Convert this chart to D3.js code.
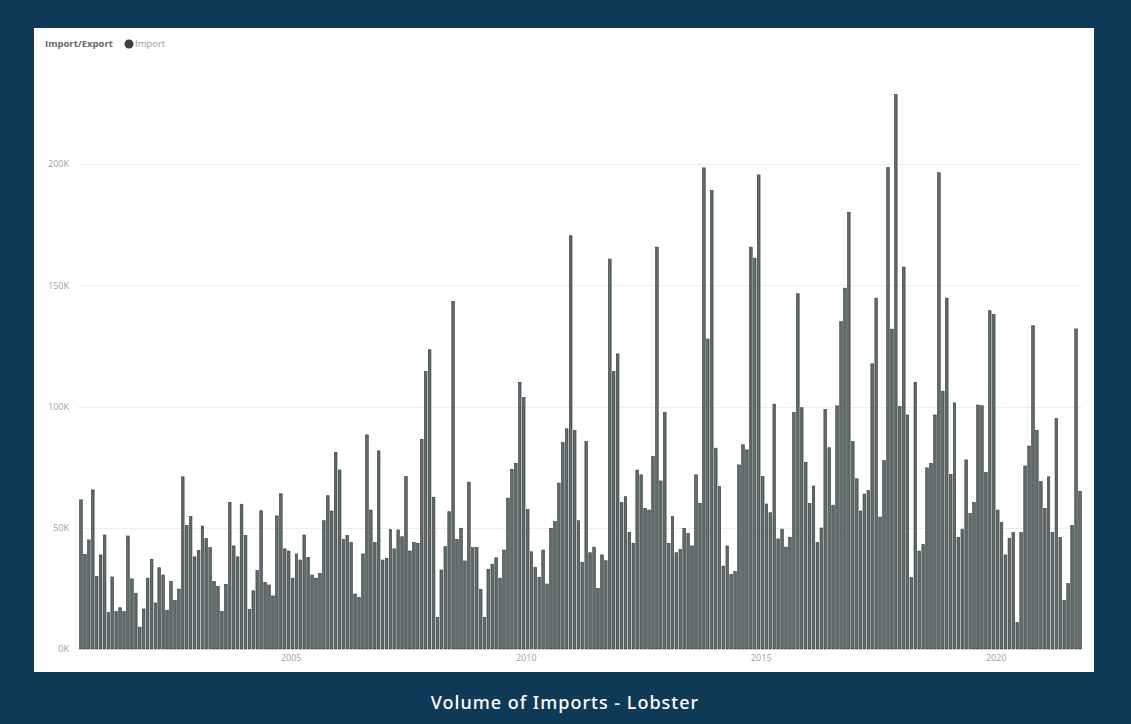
<!DOCTYPE html>
<html><head><meta charset="utf-8">
<script src="https://cdn.jsdelivr.net/npm/d3@7"></script>
<style>
html,body{margin:0;padding:0;background:#0e3a57;}
svg{display:block;}
</style></head><body>
<svg id="chart" width="1131" height="724"></svg>
<script>
// ---- data ----
const startMonth = "2000-07";
const importsK = [
61.5,39,45,65.6,30,38.8,47,15,29.7,15.4,17,15.4,46.6,28.9,23,9,16.5,29.2,37,19,33.5,30.5,16,27.8,20,24.7,
71,51,54.6,38,40.6,50.7,45.5,41.8,27.8,25.7,15.4,26.7,60.4,42.5,38,59.7,46.8,16.4,24,32.3,57,27.5,26.4,21.9,
54.9,64,41.3,40.4,29.2,39.2,36.7,47,37.8,30.5,29.2,31.2,52.9,63.2,56.9,81.1,73.8,45.2,46.8,44,22.7,21.3,39.2,
88.3,57.3,43.9,81.7,36.7,37.4,49.2,41.3,49.1,46.3,71.1,40.4,43.9,43.6,86.5,114.4,123.4,62.6,13.1,32.6,42.2,
56.6,143.3,45.2,49.8,36.3,68.8,41.8,41.8,24.6,13.1,32.9,35,37.6,29.2,40.8,62.2,74.1,76.6,110,103.7,57.6,40.1,
33.7,29.6,40.8,26.8,49.8,52.5,68.4,85.1,90.8,170.4,90.1,52.9,35.8,85.5,39.7,42,25,38.8,36.4,160.8,114.4,121.7,
60.4,62.8,48,43.6,73.8,71.8,58,57.3,79.3,165.7,69.3,97.5,43.6,54.6,39.7,41.1,49.8,47.7,42.5,71.8,60.1,198.4,
127.8,189,82.8,67,34.2,42.5,30.8,31.9,75.9,84.2,82.1,165.7,161.2,195.5,71.1,59.8,56.2,101,45.4,49.4,42,46.1,
97.5,146.5,99.5,77,60,67.2,43.9,49.9,98.8,83,59.3,100.3,135,148.8,180.1,85.5,70.2,56.9,63.9,65.4,117.6,144.7,
54.4,77.7,198.5,131.9,228.6,100,157.5,96.5,29.5,110,40.4,43.1,74.7,76.5,96.5,196.4,106.3,144.7,72,101.5,46.1,
49.4,78,55.9,60.4,100.6,100.3,72.8,139.5,137.9,57.3,52.1,38.8,45.7,48,11,48,75.5,83.7,133.3,90.1,69,58,71,48,
95,46,20,27,51,132,65
];
const yTicks = [0, 50, 100, 150, 200];
const xTickLabels = ["2005", "2010", "2015", "2020"];
const legendTitle = "Import/Export";
const seriesName = "Import";
const chartTitle = "Volume of Imports - Lobster";

// ---- build ----
const parse = d3.timeParse("%Y-%m");
const start = parse(startMonth);
const rows = importsK.map((v, i) => ({ month: d3.timeMonth.offset(start, i), value: v }));
const end = d3.timeMonth.offset(start, importsK.length);

const svg = d3.select("#chart");
svg.append("rect").attr("width", 1131).attr("height", 724).attr("fill", "#0e3a57");
svg.append("rect").attr("x", 34).attr("y", 28).attr("width", 1060).attr("height", 644).attr("fill", "#ffffff");

const x = d3.scaleTime().domain([start, end]).range([79, 1082]);
const y = d3.scaleLinear().domain([0, 200]).range([649, 164]);

// gridlines
svg.append("g").selectAll("line").data(yTicks.filter(t => t > 0)).join("line")
  .attr("x1", 78).attr("x2", 1082)
  .attr("y1", d => Math.round(y(d)) + 0.5).attr("y2", d => Math.round(y(d)) + 0.5)
  .attr("stroke", "#ededed").attr("stroke-width", 1);

// y axis
const yAxis = d3.axisLeft(y).tickValues(yTicks).tickFormat(d => d + "K").tickSize(0).tickPadding(0);
const gy = svg.append("g").attr("transform", "translate(69,0)").call(yAxis);
gy.select(".domain").remove();
gy.selectAll("text").attr("fill", "#a0a0a0").style("font-family", "'Open Sans', sans-serif").style("font-size", "9px");

// x axis
const xTickDates = xTickLabels.map(s => d3.timeParse("%Y")(s));
const xAxis = d3.axisBottom(x).tickValues(xTickDates).tickFormat(d3.timeFormat("%Y")).tickSize(0).tickPadding(0);
const gx = svg.append("g").attr("transform", "translate(0,655)").call(xAxis);
gx.select(".domain").remove();
gx.selectAll("text").attr("fill", "#a0a0a0").style("font-family", "'Open Sans', sans-serif").style("font-size", "9px");

// bars
svg.append("g").selectAll("rect").data(rows).join("rect")
  .attr("x", d => x(d.month) + 0.6)
  .attr("width", d => x(d3.timeMonth.offset(d.month, 1)) - x(d.month) - 1.3)
  .attr("y", d => y(d.value))
  .attr("height", d => y(0) - y(d.value))
  .attr("fill", "#606c6c")
  .attr("stroke", "#2f3838")
  .attr("stroke-width", 0.6);

// legend
const lg = svg.append("g").style("font-family", "'Open Sans', sans-serif").style("font-size", "9.5px");
lg.append("text").attr("x", 45).attr("y", 47).attr("fill", "#666").style("font-weight", "bold").text(legendTitle);
lg.append("circle").attr("cx", 129).attr("cy", 44).attr("r", 4.5).attr("fill", "#3a3f40");
lg.append("text").attr("x", 135).attr("y", 47).attr("fill", "#999").text(seriesName);

// title
svg.append("text").attr("x", 565).attr("y", 709).attr("text-anchor", "middle")
  .attr("fill", "#ffffff").style("font-family", "'Noto Sans', sans-serif").style("font-size", "18px")
  .style("letter-spacing", "1px").style("font-weight", "500").text(chartTitle);
</script>
</body></html>
